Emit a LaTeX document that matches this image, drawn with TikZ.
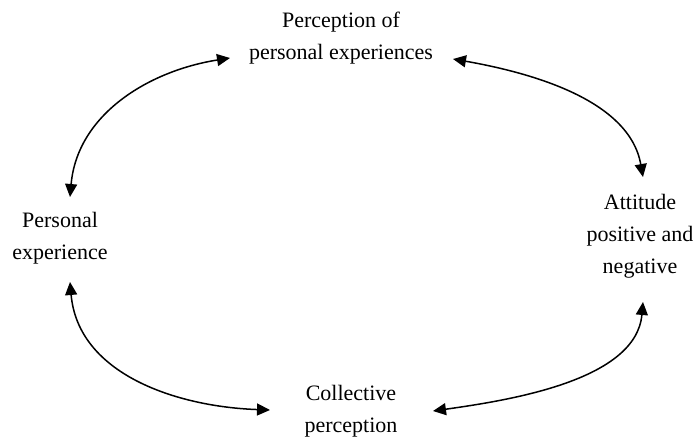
\documentclass[tikz,border=0pt]{standalone}
\usepackage{fontspec}
\setmainfont{Liberation Serif}
\usetikzlibrary{arrows.meta}
\begin{document}
\begin{tikzpicture}[x=1pt,y=-1pt,
  lbl/.style={align=center,font=\fontsize{22}{32}\selectfont,inner sep=0pt},
  arr/.style={{Triangle[length=13pt,width=12pt]}-{Triangle[length=13pt,width=12pt]},line width=1.5pt}]
\useasboundingbox (0,0) rectangle (697,438);
\node[lbl] (T) at (341,38.5) {Perception of\\personal experiences};
\node[lbl] (L) at (60,238.5) {Personal\\experience};
\node[lbl] (R) at (640,236.5) {Attitude\\positive and\\negative};
\node[lbl] (B) at (351,411.5) {Collective\\perception};
\draw[arr] ([shift={(-111,19.5)}]T.center) to[out=189,in=85] ([shift={(10,-41.5)}]L.center);
\draw[arr] ([shift={(112,20.5)}]T.center) to[out=-10,in=100,looseness=0.9] ([shift={(3,-59.5)}]R.center);
\draw[arr] ([shift={(10,43.5)}]L.center) to[out=-85,in=178] ([shift={(-81,-1.5)}]B.center);
\draw[arr] ([shift={(82,-0.5)}]B.center) to[out=8,in=-95,looseness=0.85] ([shift={(3,65.5)}]R.center);
\end{tikzpicture}
\end{document}
